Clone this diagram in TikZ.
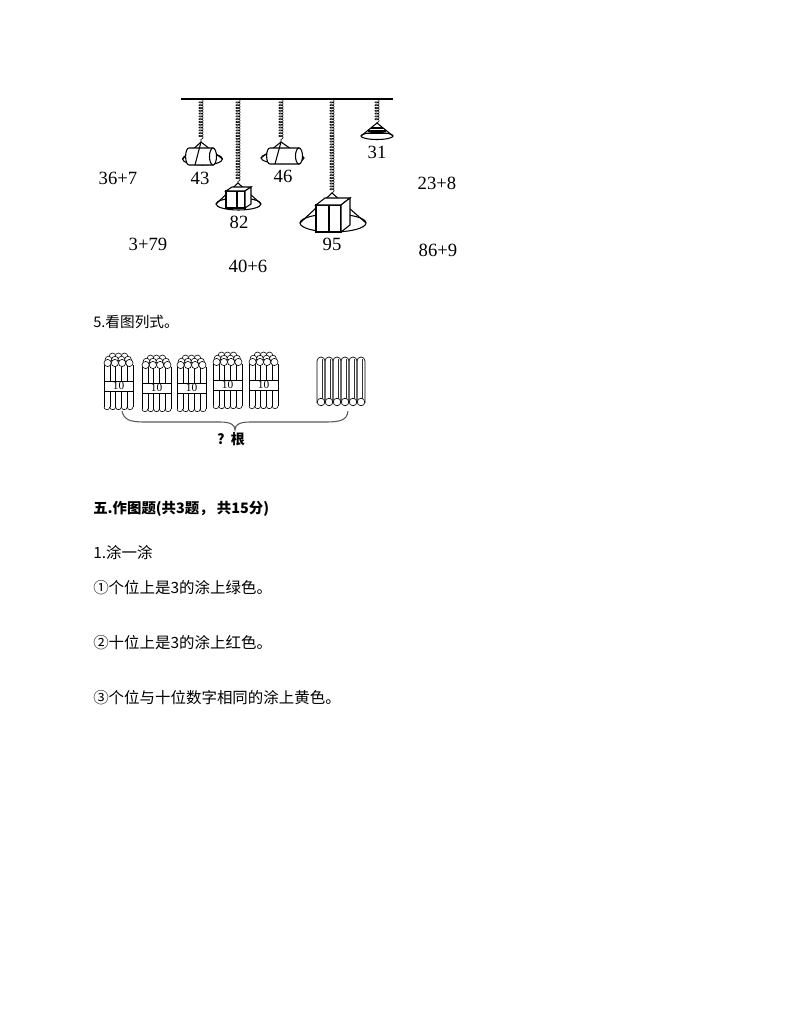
\documentclass[tikz,border=0pt]{standalone}
\usepackage{fontspec}
\setmainfont{Liberation Serif}
\newfontfamily\cjk{Noto Sans CJK SC}
\usetikzlibrary{decorations.pathmorphing}
\tikzset{
  num/.style={font=\fontsize{14}{16}\selectfont, inner sep=0pt},
  spring/.style={decorate, decoration={coil, aspect=0.6, amplitude=1.6pt, segment length=2.1pt}, line width=0.45pt},
  pan/.style={line width=0.8pt},
  txt/.style={font=\cjk\fontsize{11.6}{13}\selectfont, anchor=west, inner sep=0pt},
  bundle/.pic={
    \begin{scope}[line width=0.45pt]
      \foreach \xx in {0,5.8,11.6,17.4,23.2,29} {
        \draw (\xx,12) -- (\xx,28);
        \draw (\xx,38) -- (\xx,54);
      }
      \foreach \xa/\xb in {0/5.8,5.8/11.6,11.6/17.4,17.4/23.2,23.2/29} {
        \draw (\xa,54) .. controls (\xa,57.5) and (\xb,57.5) .. (\xb,54);
      }
      \draw[fill=white] (0,28) rectangle (29,38);
      \node[font=\fontsize{8.5}{9}\selectfont, inner sep=0pt] at (14.5,33.2) {10};
      \foreach \cx in {8.5,14.5,20.5} { \draw[fill=white] (\cx,3.2) circle [radius=3.2]; }
      \foreach \cx in {4.5,11,17.5,24} { \draw[fill=white] (\cx,6.6) circle [radius=3.4]; }
      \foreach \cx in {3.6,10.9,18.1,25.4} { \draw[fill=white] (\cx,10) circle [radius=3.6]; }
    \end{scope}
  }
}
\begin{document}
\begin{tikzpicture}[x=0.75pt,y=-0.75pt]
\useasboundingbox (0,0) rectangle (794,1028);
\fill[white] (0,0) rectangle (794,1028);

% ---------- hanging scales ----------
\coordinate (barL) at (181,99);
\coordinate (barR) at (393,99);
\draw[line width=2pt] (barL) -- (barR);

\coordinate (s1t) at (201,99);  \coordinate (s1b) at (201,142);
\coordinate (s2t) at (238,99);  \coordinate (s2b) at (238,183);
\coordinate (s3t) at (281,99);  \coordinate (s3b) at (281,142);
\coordinate (s4t) at (332,99);  \coordinate (s4b) at (332,193);
\coordinate (s5t) at (377,99);  \coordinate (s5b) at (377,123);
\foreach \s in {1,...,5} { \draw[spring] (s\s t) -- (s\s b); }

% pan 1 (43) with cylinder
\begin{scope}[pan]
  \draw (s1b) -- (182.5,159);
  \draw (s1b) -- (222.5,159);
  \draw (202.5,159) ellipse [x radius=20, y radius=6];
  \draw[fill=white] (189,148) -- (213,148) -- (213,165) -- (189,165)
        .. controls (184.5,165) and (184.5,148) .. (189,148);
  \draw[fill=white] (213,156.5) ellipse [x radius=3.5, y radius=8.5];
  \draw (s1b) -- (195,165);
\end{scope}
\node[num] (n43) at (200,178) {43};

% pan 3 (46) with cylinder
\begin{scope}[pan]
  \draw (s3b) -- (261,158);
  \draw (s3b) -- (304,158);
  \draw (282.5,158) ellipse [x radius=21.5, y radius=5.5];
  \draw[fill=white] (270,148) -- (299,148) -- (299,164) -- (270,164)
        .. controls (265.5,164) and (265.5,148) .. (270,148);
  \draw[fill=white] (299,156) ellipse [x radius=3.5, y radius=8];
  \draw (s3b) -- (275,164);
\end{scope}
\node[num] (n46) at (283,176) {46};

% pan 2 (82) with cube
\begin{scope}[pan]
  \draw (s2b) -- (216,204);
  \draw (s2b) -- (261,204);
  \draw (238.5,204) ellipse [x radius=22.5, y radius=6];
  \draw[fill=white] (226,191) rectangle (245,208);
  \draw[fill=white] (226,191) -- (232,187) -- (251,187) -- (245,191) -- cycle;
  \draw[fill=white] (245,191) -- (251,187) -- (251,204) -- (245,208) -- cycle;
  \draw (237,191) -- (237,208);
\end{scope}
\node[num] (n82) at (239,222) {82};

% pan 4 (95) with cube
\begin{scope}[pan]
  \draw (s4b) -- (300,223);
  \draw (s4b) -- (366,223);
  \draw (333,223) ellipse [x radius=33, y radius=9];
  \draw[fill=white] (316,205) rectangle (341,232);
  \draw[fill=white] (316,205) -- (325,198) -- (350,198) -- (341,205) -- cycle;
  \draw[fill=white] (341,205) -- (350,198) -- (350,225) -- (341,232) -- cycle;
  \draw (329,205) -- (329,232);
\end{scope}
\node[num] (n95) at (332,244) {95};

% pan 5 (31) with stacked discs
\begin{scope}[pan]
  \draw (s5b) -- (361,136);
  \draw (s5b) -- (393,136);
  \draw (377,136) ellipse [x radius=16, y radius=3.5];
  \draw (371,128) -- (383,128);
  \draw (368,131) -- (386,131);
  \draw (366,133.5) -- (388,133.5);
\end{scope}
\node[num] (n31) at (377,152) {31};

% equations
\node[num] (e1) at (118,178) {36+7};
\node[num] (e2) at (437,183) {23+8};
\node[num] (e3) at (148,244) {3+79};
\node[num] (e4) at (438,250) {86+9};
\node[num] (e5) at (248,266) {40+6};

% ---------- 5. picture ----------
\node[txt, font=\cjk\fontsize{11}{13}\selectfont] (q5) at (93,322) {5.看图列式。};

\pic at (104,353) {bundle};
\pic at (142,355) {bundle};
\pic at (177,355) {bundle};
\pic at (213,352) {bundle};
\pic at (249,352) {bundle};

\foreach \i in {0,...,5} {
  \pgfmathsetmacro\lx{317+8*\i}
  \draw[line width=0.5pt, rounded corners=3] (\lx,403) -- (\lx,357) -- (\lx+8,357) -- (\lx+8,403);
  \draw[line width=1.1pt, black!80] (\lx+5.5,359) -- (\lx+5.5,399);
  \draw[fill=white, line width=0.5pt] (\lx+4,402) circle [radius=3.8];
}

\draw[black!65, line width=0.8pt]
  (122,411) .. controls (124,420) and (130,422) .. (145,422) -- (220,422)
  .. controls (231,422) and (235,425) .. (235,430)
  .. controls (235,425) and (239,422) .. (250,422) -- (325,422)
  .. controls (341,422) and (347,420) .. (348,411);
\node[font=\cjk\bfseries\fontsize{10.5}{12}\selectfont, inner sep=0pt] (ans) at (231,439) {?\ \ 根};

% ---------- section 5 ----------
\node[txt, font=\cjk\bfseries\fontsize{10.8}{12}\selectfont] (h5) at (93,509) {五.作图题(共3题，  共15分)};
\node[txt] (t1) at (93,553) {1.涂一涂};
\node[txt] (t2) at (93,588) {①个位上是3的涂上绿色。};
\node[txt] (t3) at (93,643) {②十位上是3的涂上红色。};
\node[txt] (t4) at (93,698) {③个位与十位数字相同的涂上黄色。};
\end{tikzpicture}
\end{document}
